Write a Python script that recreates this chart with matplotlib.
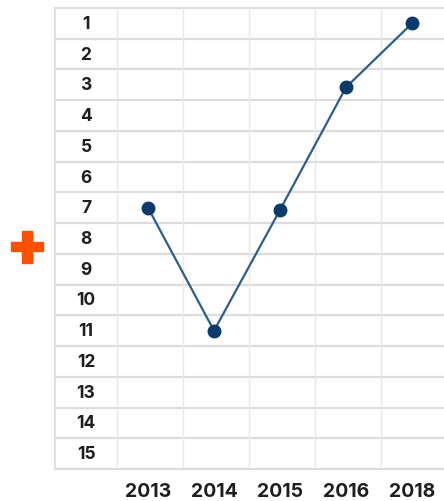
import matplotlib.pyplot as plt
from matplotlib.patches import Rectangle

# ranking by year (1 = best)
years = ['2013', '2014', '2015', '2016', '2018']
ranks = [7, 11, 7.07, 3.08, 1]
row_labels = [str(i) for i in range(1, 16)]

W, H = 444, 502
fig = plt.figure(figsize=(W / 100, H / 100), dpi=100)
fig.patch.set_facecolor('white')

# table area runs off the right edge
left, right, top, bottom = 55, 447, 9, 470
ax = fig.add_axes([left / W, 1 - bottom / H, (right - left) / W, (bottom - top) / H])
ax.set_xlim(0.5 - 62 / 66, len(years) + 0.5)
ax.set_ylim(15.5, 0.5)
ax.axis('off')

font = 'Inter'
txt_col = '#1e1e1e'

# grid
for y in range(len(row_labels) + 1):
    ax.axhline(y + 0.5, color='#dcdcdc', lw=1.6, zorder=1, clip_on=False)
for x in range(len(years) + 1):
    ax.axvline(x + 0.5, color='#e8e8e8', lw=1.0, zorder=1)
ax.axvline(0.5 - 62 / 66, color='#dcdcdc', lw=1.2, zorder=1, clip_on=False)

# row numbers
xlab = (0.5 - 62 / 66 + 0.5) / 2
for i, lab in enumerate(row_labels):
    ax.text(xlab, i + 1, lab, ha='center', va='center', fontsize=12.5,
            fontweight='bold', family=font, color=txt_col)

# year labels
xs = list(range(1, len(years) + 1))
for x, lab in zip(xs, years):
    ax.text(x - 0.03, 16.22, lab, ha='center', va='center', fontsize=14,
            fontweight='bold', family=font, color=txt_col, clip_on=False)

ax.plot([x - 0.03 for x in xs], ranks, color='#2b5e8a', lw=1.6, zorder=3)
ax.plot([x - 0.03 for x in xs], ranks, 'o', color='#0b3a6b', markersize=9, zorder=4)

# orange plus sign on the left
cx, cy, size, th = 27, 247.5, 32, 9.5
fig.patches.append(Rectangle(((cx - size / 2) / W, 1 - (cy + th / 2) / H), size / W, th / H,
                             transform=fig.transFigure, color='#ff4f00'))
fig.patches.append(Rectangle(((cx - th / 2) / W, 1 - (cy + size / 2) / H), th / W, size / H,
                             transform=fig.transFigure, color='#ff4f00'))

fig.savefig('out.png', dpi=100)
